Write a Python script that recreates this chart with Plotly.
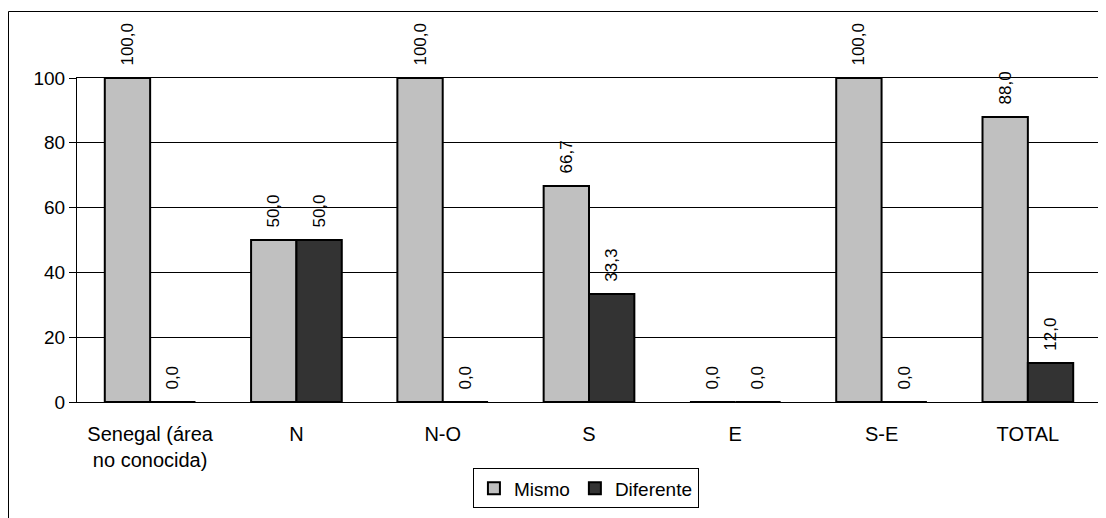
import plotly.graph_objects as go

categories = ["Senegal (área<br>no conocida)", "N", "N-O", "S", "E", "S-E", "TOTAL"]
mismo = [100.0, 50.0, 100.0, 66.7, 0.0, 100.0, 88.0]
diferente = [0.0, 50.0, 0.0, 33.3, 0.0, 0.0, 12.0]
y_ticks = [0, 20, 40, 60, 80, 100]

FONT = "Liberation Sans, Arial, sans-serif"

W, H = 1106, 518
L, R, T, B = 69, 13, 70, 124
pw, ph = W - L - R, H - T - B

fig = go.Figure()
for name, vals, col in [("Mismo", mismo, "#C0C0C0"), ("Diferente", diferente, "#333333")]:
    fig.add_trace(go.Bar(
        name=name, x=categories, y=vals,
        marker=dict(color=col, line=dict(color="#000000", width=2)),
        texttemplate="\u00a0\u00a0%{y:.1f}", textposition="outside", textangle=-90,
        textfont=dict(family=FONT, size=17, color="#000000"),
        cliponaxis=False, constraintext="none",
    ))

# outer chart border (pixel positions converted to paper coords)
bx0 = (0.5 - L) / pw
by1 = (H - B - 3.5) / ph
fig.add_shape(type="rect", xref="paper", yref="paper",
              x0=bx0, x1=1.2, y0=-1.0, y1=by1,
              line=dict(color="#000000", width=1), fillcolor="rgba(0,0,0,0)", layer="below")

fig.update_layout(
    width=W, height=H,
    margin=dict(l=L, r=R, t=T, b=B),
    paper_bgcolor="#FFFFFF", plot_bgcolor="#FFFFFF",
    barmode="group", bargap=0.38, bargroupgap=0,
    separators=",.",
    font=dict(family=FONT, size=19, color="#000000"),
    showlegend=True,
    legend=dict(orientation="h", x=0.497, xanchor="center", y=-0.205, yanchor="top",
                bordercolor="#000000", borderwidth=1, bgcolor="#FFFFFF",
                font=dict(family=FONT, size=19, color="#000000"),
                itemwidth=30, tracegroupgap=0),
    xaxis=dict(showline=True, linecolor="#000000", linewidth=1, mirror=True,
               ticks="", showgrid=False, ticklabelstandoff=14,
               tickfont=dict(family=FONT, size=20)),
    yaxis=dict(range=[0, 100], tickvals=y_ticks, showline=True, linecolor="#000000",
               linewidth=1, mirror=True, ticks="outside", ticklen=7, tickcolor="#000000",
               showgrid=True, gridcolor="#000000", gridwidth=1, zeroline=False,
               tickfont=dict(family=FONT, size=19)),
)

fig.write_html("out.html")
